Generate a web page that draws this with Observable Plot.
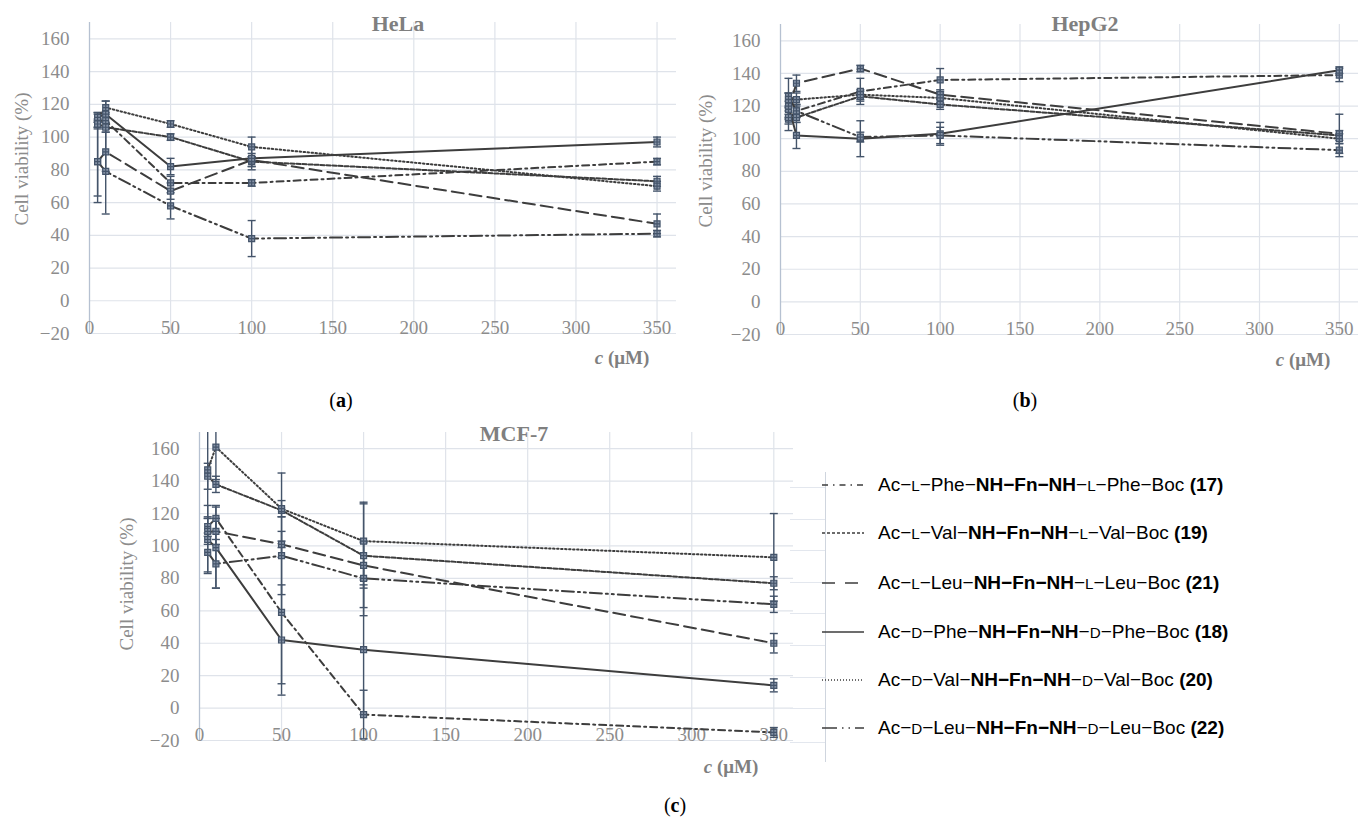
<!DOCTYPE html>
<html><head><meta charset="utf-8">
<script src="https://cdn.jsdelivr.net/npm/d3@7"></script>
<script src="https://cdn.jsdelivr.net/npm/@observablehq/plot@0.6"></script>
<style>
body{margin:0;background:#fff;}
#root{position:relative;width:1368px;height:817px;overflow:hidden;background:#fff;font-family:"Liberation Serif",serif;}
.abs{position:absolute;white-space:nowrap;}
.c{transform:translate(-50%,-50%);}
.ylab{color:#8c8c8c;font-size:19px;transform:translate(-50%,-50%) rotate(-90deg);}
.title{color:#7f7f7f;font-size:22px;font-weight:bold;}
.unit{color:#7f7f7f;font-size:19px;font-weight:bold;}
.cap{color:#000;font-size:20px;}
.leg{font-family:"Liberation Sans",Arial,sans-serif;font-size:19px;color:#000;}
.sc{font-size:0.8em;}
</style></head>
<body><div id="root"></div>
<script>
// ---------- data ----------
const concentrations = [5, 10, 50, 100, 350];
const compounds = ["17", "19", "21", "18", "20", "22"];
const legendLabels = [
  ["Ac−", "L", "−Phe−", "NH−Fn−NH", "−", "L", "−Phe−Boc ", "(17)"],
  ["Ac−", "L", "−Val−", "NH−Fn−NH", "−", "L", "−Val−Boc ", "(19)"],
  ["Ac−", "L", "−Leu−", "NH−Fn−NH", "−", "L", "−Leu−Boc ", "(21)"],
  ["Ac−", "D", "−Phe−", "NH−Fn−NH", "−", "D", "−Phe−Boc ", "(18)"],
  ["Ac−", "D", "−Val−", "NH−Fn−NH", "−", "D", "−Val−Boc ", "(20)"],
  ["Ac−", "D", "−Leu−", "NH−Fn−NH", "−", "D", "−Leu−Boc ", "(22)"]
];
const xTicks = [0, 50, 100, 150, 200, 250, 300, 350];
const yTicks = [-20, 0, 20, 40, 60, 80, 100, 120, 140, 160];

// HeLa (rows follow compounds order)
const helaMean = [
  [110, 110, 72, 72, 85],
  [108, 106, 100, 85, 73],
  [85, 91, 67, 86, 47],
  [112, 114, 82, 87, 97],
  [112, 118, 108, 94, 70],
  [85, 79, 58, 38, 41]
];
const helaErr = [
  [4, 5, 4, 2, 2],
  [3, 3, 2, 3, 3],
  [25, 12, 5, 4, 6],
  [3, 8, 5, 7, 3],
  [3, 4, 2, 6, 3],
  [21, 26, 8, 11, 2]
];
// HepG2
const hepMean = [
  [112, 117, 129, 136, 139],
  [113, 113, 126, 121, 102],
  [118, 134, 143, 127, 103],
  [120, 102, 100, 103, 142],
  [124, 124, 127, 125, 100],
  [126, 117, 101, 102, 93]
];
const hepErr = [
  [7, 4, 8, 7, 4],
  [4, 3, 3, 3, 3],
  [5, 5, 2, 3, 12],
  [8, 8, 11, 7, 2],
  [4, 4, 3, 3, 3],
  [11, 4, 3, 5, 4]
];
// MCF-7
const mcfMean = [
  [112, 117, 59, -4, -15],
  [143, 138, 122, 94, 77],
  [109, 109, 101, 88, 40],
  [104, 99, 42, 36, 14],
  [147, 161, 123, 103, 93],
  [96, 89, 94, 80, 64]
];
const mcfErr = [
  [6, 8, 44, 15, 3],
  [8, 5, 23, 32, 4],
  [8, 8, 8, 14, 6],
  [21, 25, 34, 40, 4],
  [30, 20, 5, 24, 27],
  [12, 15, 24, 23, 5]
];

// ---------- styles ----------
const dashes = ["7,4,2,4", "4,2", "12,6", null, "1.5,2.5", "12,4,2,4,2,4"];
const legendDashes = ["6,5,1.5,5", "3,2", "13,10", null, "1,2", "15,5,1.5,5,1.5,5"];
const lineColor = "#3d3d3d";
const errColor = "#44546a";
const gridColor = "#dfe3ea";

const capSymbol = {draw(ctx, size) { const r = Math.sqrt(size / Math.PI); ctx.moveTo(-r, 0); ctx.lineTo(r, 0); }};
const markSymbol = {draw(ctx, size) { const r = Math.sqrt(size / Math.PI);
  ctx.moveTo(-r, -r); ctx.lineTo(r, -r); ctx.lineTo(r, r); ctx.lineTo(-r, r); ctx.closePath();
  ctx.moveTo(-r, 0); ctx.lineTo(r, 0); ctx.moveTo(0, -r); ctx.lineTo(0, r); }};

const root = document.getElementById("root");
function place(el, left, top) { el.style.position = "absolute"; el.style.left = left + "px"; el.style.top = top + "px"; root.appendChild(el); }
function addText(html, cls, x, y) { const d = document.createElement("div"); d.className = "abs c " + cls; d.innerHTML = html; place(d, x, y); }

function panel(means, errs, o) {
  const rows = [];
  compounds.forEach((c, i) => concentrations.forEach((x, j) => rows.push({c, i, x, y: means[i][j], e: errs[i][j]})));
  const chart = Plot.plot({
    width: o.width, height: o.height,
    marginLeft: o.ml, marginRight: o.mr, marginTop: o.mt, marginBottom: o.mb,
    x: {domain: [0, 362], label: null},
    y: {domain: [-20, 170], label: null},
    style: {fontFamily: "Liberation Serif, serif", fontSize: "19px", color: "#8c8c8c", background: "transparent", overflow: "visible"},
    marks: [
      Plot.gridY(yTicks, {stroke: gridColor, strokeOpacity: 1, strokeWidth: 1.2}),
      Plot.gridX(xTicks.slice(1), {stroke: gridColor, strokeOpacity: 1, strokeWidth: 1.2}),
      Plot.ruleX([0], {stroke: "#b6c1d1", strokeWidth: 1.3}),
      Plot.axisY(yTicks, {anchor: "left", tickSize: 0, tickPadding: 20}),
      Plot.axisX(xTicks, {anchor: "bottom", tickSize: 0, tickPadding: 0, dy: -13}),
      Plot.ruleX(rows, {x: "x", y1: d => d.y - d.e, y2: d => d.y + d.e, stroke: errColor, strokeWidth: 1.4, clip: true}),
      Plot.dot(rows, {x: "x", y: d => d.y - d.e, symbol: capSymbol, r: 4, stroke: errColor, strokeWidth: 1.4, clip: true}),
      Plot.dot(rows, {x: "x", y: d => d.y + d.e, symbol: capSymbol, r: 4, stroke: errColor, strokeWidth: 1.4, clip: true}),
      ...compounds.map((c, i) => Plot.line(rows.filter(r => r.i === i), {x: "x", y: "y", stroke: lineColor, strokeWidth: 2, strokeDasharray: dashes[i]})),
      Plot.dot(rows, {x: "x", y: "y", symbol: markSymbol, r: 3, stroke: errColor, fill: "#8592a6", strokeWidth: 1.2})
    ]
  });
  place(chart, o.left, o.top);
}

panel(helaMean, helaErr, {left: 0, top: 0, width: 680, height: 352, ml: 89, mr: 4, mt: 22, mb: 19});
panel(hepMean, hepErr, {left: 690, top: 0, width: 678, height: 352, ml: 90, mr: 10, mt: 24, mb: 18});
panel(mcfMean, mcfErr, {left: 100, top: 400, width: 700, height: 357, ml: 99, mr: 7, mt: 32, mb: 17});

// titles, axis labels, captions
addText("HeLa", "title", 398, 24);
addText("HepG2", "title", 1085, 24);
addText("MCF-7", "title", 514, 434);
addText("Cell viability (%)", "ylab", 22, 159);
addText("Cell viability (%)", "ylab", 706, 161);
addText("Cell viability (%)", "ylab", 127, 584);
addText("<i>c</i> (μM)", "unit", 622, 358);
addText("<i>c</i> (μM)", "unit", 1303, 360);
addText("<i>c</i> (μM)", "unit", 731, 767);
addText("(<b>a</b>)", "cap", 341, 400);
addText("(<b>b</b>)", "cap", 1025, 400);
addText("(<b>c</b>)", "cap", 675, 805);

// legend decoration: vertical rule and stubs
const vline = document.createElement("div");
vline.style.cssText = "width:1px;height:290px;background:#cfd5de;";
place(vline, 825, 472);
[487, 519, 550, 582, 613, 645, 677, 708, 742].forEach(y => {
  const s = document.createElement("div");
  s.style.cssText = "width:35px;height:1px;background:#e3e7ee;";
  place(s, 790, y);
});

// legend
const legendY = [485, 533, 583, 632, 680, 728];
compounds.forEach((c, i) => {
  const svg = d3.create("svg").attr("width", 44).attr("height", 10);
  svg.append("line").attr("x1", 0).attr("x2", 42).attr("y1", 5).attr("y2", 5)
    .attr("stroke", lineColor).attr("stroke-width", 1.6).attr("stroke-dasharray", legendDashes[i]);
  place(svg.node(), 822, legendY[i] - 5);
  const p = legendLabels[i];
  const d = document.createElement("div");
  d.className = "abs leg";
  d.innerHTML = `${p[0]}<span class="sc">${p[1]}</span>${p[2]}<b>${p[3]}</b>${p[4]}<span class="sc">${p[5]}</span>${p[6]}<b>${p[7]}</b>`;
  d.style.transform = "translateY(-50%)";
  place(d, 878, legendY[i]);
});
</script>
</body></html>
